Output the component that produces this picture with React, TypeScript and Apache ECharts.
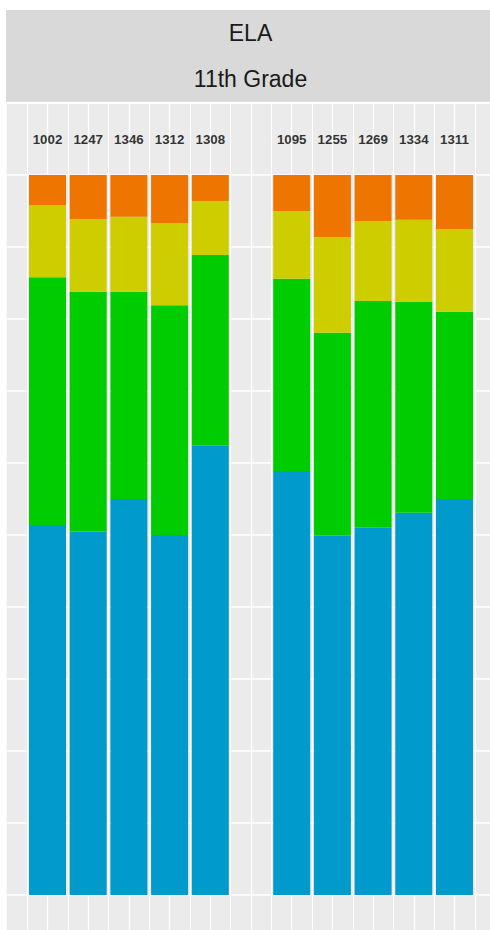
import React, { useEffect, useRef } from "react";
import * as echarts from "echarts";

// 13 slots on the x axis: an empty padding slot on each side and an empty slot between the two groups
const slots = ["", "A1", "A2", "A3", "A4", "A5", "", "B1", "B2", "B3", "B4", "B5", " "];
// slot index of each bar
const positions = [1, 2, 3, 4, 5, 7, 8, 9, 10, 11];
const counts = [1002, 1247, 1346, 1312, 1308, 1095, 1255, 1269, 1334, 1311];
// percentage of students per level, stacked from bottom to top
const levelBlue = [51.4, 50.5, 55.0, 50.0, 62.4, 58.9, 49.9, 51.0, 53.1, 55.0];
const levelGreen = [34.4, 33.3, 28.8, 31.9, 26.5, 26.7, 28.2, 31.5, 29.3, 26.0];
const levelYellow = [10.0, 10.1, 10.4, 11.4, 7.5, 9.4, 13.3, 11.1, 11.4, 11.5];
const levelOrange = [4.2, 6.1, 5.8, 6.7, 3.6, 5.0, 8.6, 6.4, 6.2, 7.5];
const countLabelY = 105;
const stripTitle = "ELA";
const stripSubtitle = "11th Grade";

const COLORS = ["#009ACD", "#00CD00", "#CDCD00", "#EE7600"];

function toSlots(vals: number[]): (number | string)[] {
  const out: (number | string)[] = slots.map(() => "-");
  vals.forEach((v, i) => {
    out[positions[i]] = v;
  });
  return out;
}

export default function App() {
  const ref = useRef<HTMLDivElement>(null);
  useEffect(() => {
    if (!ref.current) return;
    const chart = echarts.init(ref.current, undefined, { renderer: "svg" });
    const mk = (name: string, vals: number[], color: string) => ({
      name,
      type: "bar",
      stack: "total",
      xAxisIndex: 0,
      barWidth: 37,
      itemStyle: { color },
      data: toSlots(vals),
    });
    const labelData: any[] = slots.map(() => "-");
    counts.forEach((c, i) => {
      labelData[positions[i]] = { value: countLabelY, n: c };
    });
    chart.setOption({
      animation: false,
      backgroundColor: "#FFFFFF",
      grid: {
        left: 6.8,
        top: 103,
        width: 488.4,
        height: 864,
        show: true,
        backgroundColor: "#EBEBEB",
        borderWidth: 0,
      },
      xAxis: [
        {
          type: "category",
          data: slots,
          boundaryGap: false,
          axisLine: { show: false },
          axisTick: { show: false },
          axisLabel: { show: false },
          splitLine: { show: false },
        },
        {
          type: "value",
          min: -1,
          max: 11,
          interval: 1,
          axisLine: { show: false },
          axisTick: { show: false },
          axisLabel: { show: false },
          splitLine: { show: true, showMinLine: false, lineStyle: { color: "#FFFFFF", width: 1.4 } },
          minorTick: { show: false, splitNumber: 2 },
          minorSplitLine: { show: true, lineStyle: { color: "#FFFFFF", width: 1.1 } },
        },
      ],
      yAxis: {
        type: "value",
        min: -10,
        max: 110,
        interval: 10,
        axisLine: { show: false },
        axisTick: { show: false },
        axisLabel: { show: false },
        splitLine: { show: true, lineStyle: { color: "#FFFFFF", width: 1.5 } },
      },
      graphic: [
        {
          type: "rect",
          shape: { x: 6, y: 10, width: 520, height: 91.7 },
          style: { fill: "#D9D9D9" },
          z: 10,
        },
        {
          type: "text",
          x: 250.5,
          y: 33,
          style: {
            text: stripTitle,
            textAlign: "center",
            textVerticalAlign: "middle",
            fontSize: 23,
            fontFamily: "Liberation Sans, Arial, sans-serif",
            fill: "#1A1A1A",
          },
          z: 11,
        },
        {
          type: "text",
          x: 250.5,
          y: 79,
          style: {
            text: stripSubtitle,
            textAlign: "center",
            textVerticalAlign: "middle",
            fontSize: 23,
            fontFamily: "Liberation Sans, Arial, sans-serif",
            fill: "#1A1A1A",
          },
          z: 11,
        },
      ],
      series: [
        mk("Blue", levelBlue, COLORS[0]),
        mk("Green", levelGreen, COLORS[1]),
        mk("Yellow", levelYellow, COLORS[2]),
        mk("Orange", levelOrange, COLORS[3]),
        {
          name: "N",
          type: "scatter",
          xAxisIndex: 0,
          symbolSize: 0,
          data: labelData,
          label: {
            show: true,
            position: "inside",
            formatter: (p: any) => String(p.data.n),
            fontSize: 13.3,
            fontWeight: "bold",
            fontFamily: "Liberation Sans, Arial, sans-serif",
            color: "#000000",
          },
        },
      ],
    });
    return () => chart.dispose();
  }, []);
  return (
    <div
      style={{
        position: "absolute",
        left: 0,
        top: 0,
        width: 490,
        height: 930,
        overflow: "hidden",
      }}
    >
      <div ref={ref} style={{ width: 530, height: 1000 }} />
    </div>
  );
}
